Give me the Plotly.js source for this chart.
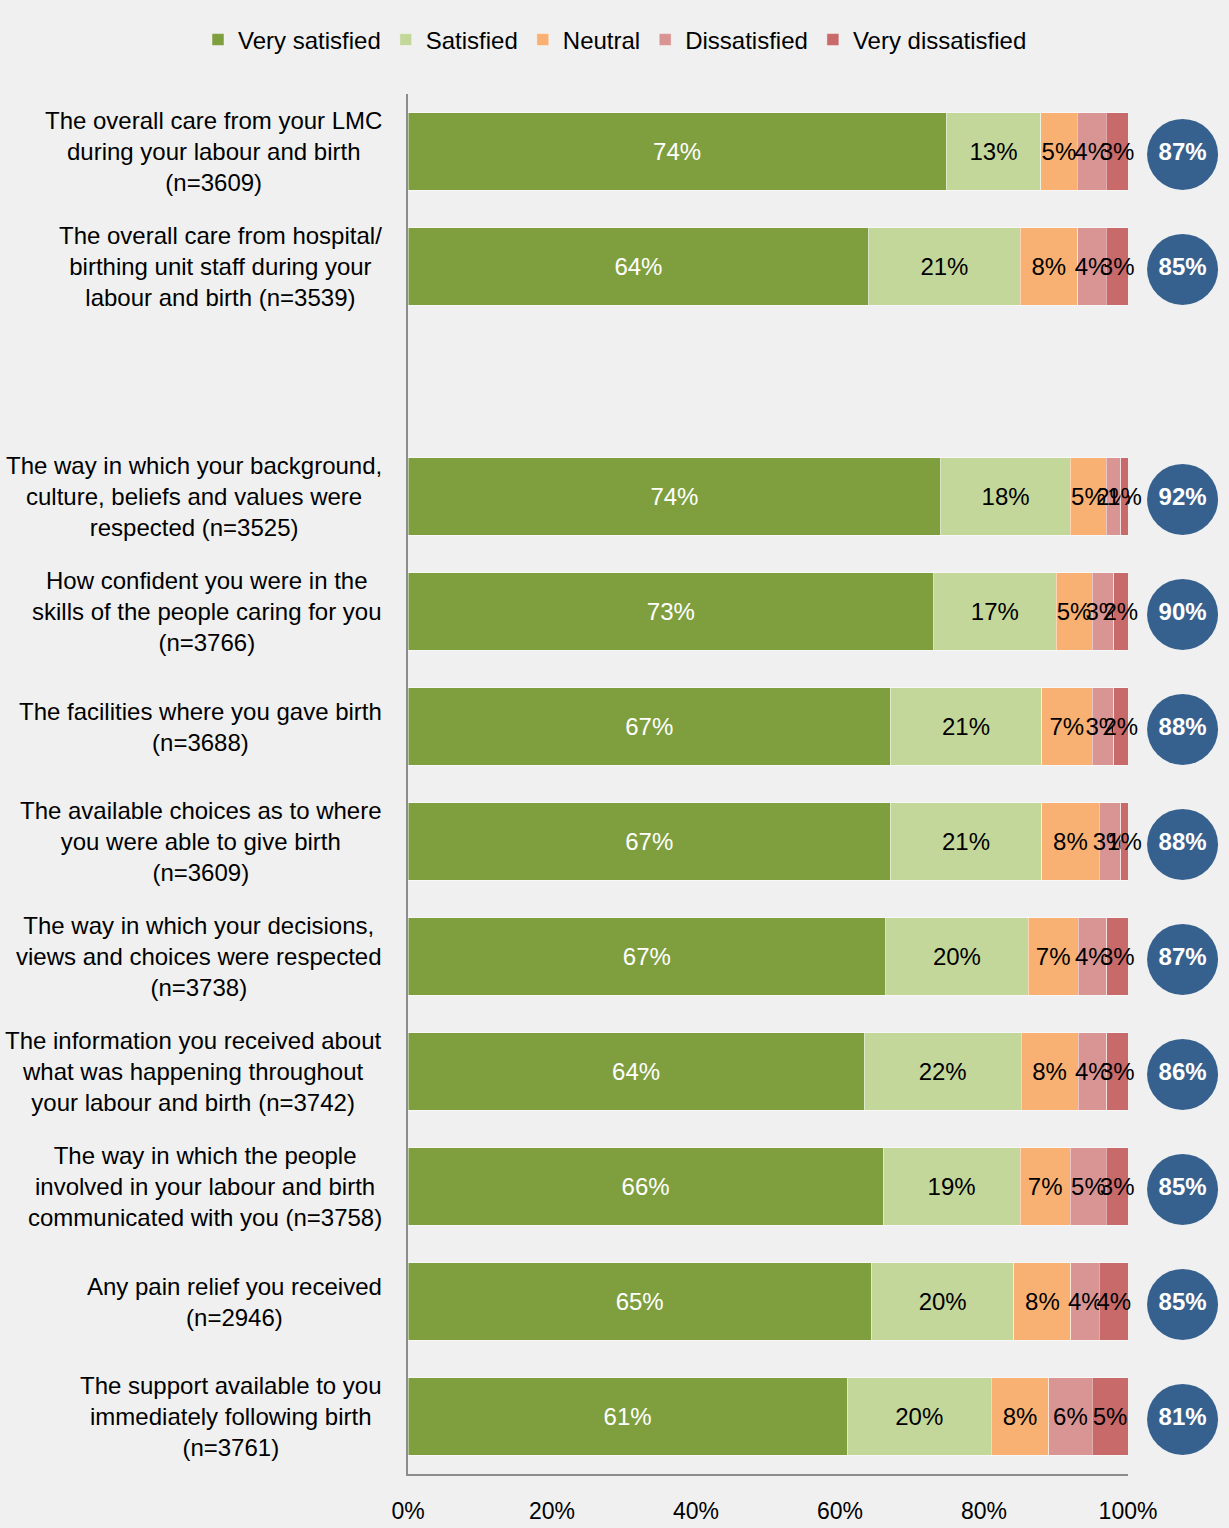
<!DOCTYPE html>
<html>
<head>
<meta charset="utf-8">
<script src="https://cdn.plot.ly/plotly-3.0.1.min.js"></script>
<style>html,body{margin:0;padding:0;background:#f0f0f0;}</style>
</head>
<body>
<div id="chart" style="width:1229px;height:1528px;"></div>
<script>
const categories = [
  "The overall care from your LMC<br>during your labour and birth<br>(n=3609)",
  "The overall care from hospital/<br>birthing unit staff during your<br>labour and birth (n=3539)",
  "The way in which your background,<br>culture, beliefs and values were<br>respected (n=3525)",
  "How confident you were in the<br>skills of the people caring for you<br>(n=3766)",
  "The facilities where you gave birth<br>(n=3688)",
  "The available choices as to where<br>you were able to give birth<br>(n=3609)",
  "The way in which your decisions,<br>views and choices were respected<br>(n=3738)",
  "The information you received about<br>what was happening throughout<br>your labour and birth (n=3742)",
  "The way in which the people<br>involved in your labour and birth<br>communicated with you (n=3758)",
  "Any pain relief you received<br>(n=2946)",
  "The support available to you<br>immediately following birth<br>(n=3761)"
];
const verySatisfied     = [74, 64, 74, 73, 67, 67, 67, 64, 66, 65, 61];
const satisfied         = [13, 21, 18, 17, 21, 21, 20, 22, 19, 20, 20];
const neutral           = [5, 8, 5, 5, 7, 8, 7, 8, 7, 8, 8];
const dissatisfied      = [4, 4, 2, 3, 3, 3, 4, 4, 5, 4, 6];
const veryDissatisfied  = [3, 3, 1, 2, 2, 1, 3, 3, 3, 4, 5];
const totalSatisfied    = [87, 85, 92, 90, 88, 88, 87, 86, 85, 85, 81];
const seriesNames = ["Very satisfied", "Satisfied", "Neutral", "Dissatisfied", "Very dissatisfied"];
const xTicks = [0, 20, 40, 60, 80, 100];

// axis order with an empty slot after the first two questions
const GAP = " ";
const axisOrder = [categories[0], categories[1], GAP].concat(categories.slice(2));

const colors = ["#7f9f3f", "#c4d79b", "#f9b173", "#d99594", "#c8696a"];
const textColors = ["#ffffff", "#000000", "#000000", "#000000", "#000000"];
const FONT = "Liberation Sans, Arial, sans-serif";

// layout geometry (pixels)
const W = 1229, H = 1528;
const ML = 408, MR = 4, MT = 94, MB = 54;
const BAR_W = 720;                       // width of the 0-100% bar area
const PLOT_W = W - ML - MR;
const PLOT_H = H - MT - MB;
const BAR_DOMAIN_END = BAR_W / PLOT_W;
const CIRCLE_X = 0.5625;                 // relative position inside the circle column
const CIRCLE_DY = 0.025;                 // circles sit a touch lower than bar centres
const LEGEND_LEFT = 198;

const seriesValues = [verySatisfied, satisfied, neutral, dissatisfied, veryDissatisfied];
const traces = seriesValues.map((vals, i) => ({
  type: "bar",
  orientation: "h",
  name: seriesNames[i],
  y: categories,
  x: vals,
  xaxis: "x", yaxis: "y",
  text: vals.map(v => v + "%"),
  textposition: "inside",
  insidetextanchor: "middle",
  textangle: 0,
  constraintext: "none",
  cliponaxis: false,
  textfont: {family: FONT, size: 24, color: textColors[i]},
  marker: {color: colors[i], line: {color: "rgba(255,255,255,0.45)", width: 1}},
  hoverinfo: "skip"
}));

traces.push({
  type: "scatter",
  mode: "markers+text",
  xaxis: "x2", yaxis: "y2",
  y: categories,
  x: categories.map(() => CIRCLE_X),
  text: totalSatisfied.map(v => "<b>" + v + "%</b>"),
  textposition: "middle center",
  textfont: {family: FONT, size: 24, color: "#ffffff"},
  marker: {size: 71, color: "#36618f", line: {width: 0}},
  cliponaxis: false,
  showlegend: false,
  hoverinfo: "skip"
});

const annotations = categories.map(c => ({
  xref: "paper", x: 0, xshift: -24, xanchor: "right",
  yref: "y", y: c, yanchor: "middle",
  text: c, showarrow: false, align: "center",
  font: {family: FONT, size: 24, color: "#000000"}
}));

const layout = {
  width: W, height: H,
  paper_bgcolor: "#f0f0f0", plot_bgcolor: "rgba(0,0,0,0)",
  font: {family: FONT, size: 24, color: "#000000"},
  margin: {l: ML, r: MR, t: MT, b: MB, pad: 0, autoexpand: false},
  barmode: "stack",
  barnorm: "percent",
  bargap: 0.33,
  showlegend: true,
  legend: {
    orientation: "h", traceorder: "normal",
    xref: "paper", x: (LEGEND_LEFT - ML) / PLOT_W, xanchor: "left",
    yref: "paper", y: 1 + (MT - 40) / PLOT_H, yanchor: "middle",
    font: {family: FONT, size: 24, color: "#000000"},
    bgcolor: "rgba(0,0,0,0)", borderwidth: 0
  },
  xaxis: {
    domain: [0, BAR_DOMAIN_END],
    range: [0, 100], tickvals: xTicks, ticktext: xTicks.map(v => v + "%"),
    showgrid: false, zeroline: false, showline: true,
    linecolor: "#8c8c8c", linewidth: 2, ticks: "",
    ticklabelstandoff: 15,
    tickfont: {family: FONT, size: 23, color: "#000000"}
  },
  xaxis2: {
    domain: [BAR_DOMAIN_END, 1], anchor: "y2",
    range: [0, 1], visible: false, showgrid: false, zeroline: false
  },
  yaxis: {
    type: "category", categoryorder: "array", categoryarray: axisOrder,
    range: [axisOrder.length - 0.5, -0.5],
    showgrid: false, zeroline: false, showline: true,
    linecolor: "#8c8c8c", linewidth: 2, ticks: "", showticklabels: false
  },
  yaxis2: {
    type: "category", categoryorder: "array", categoryarray: axisOrder,
    overlaying: "y", anchor: "x2",
    range: [axisOrder.length - 0.5 - CIRCLE_DY, -0.5 - CIRCLE_DY],
    visible: false, showgrid: false, zeroline: false
  },
  annotations: annotations
};

Plotly.newPlot("chart", traces, layout, {displayModeBar: false, staticPlot: true});
</script>
</body>
</html>
